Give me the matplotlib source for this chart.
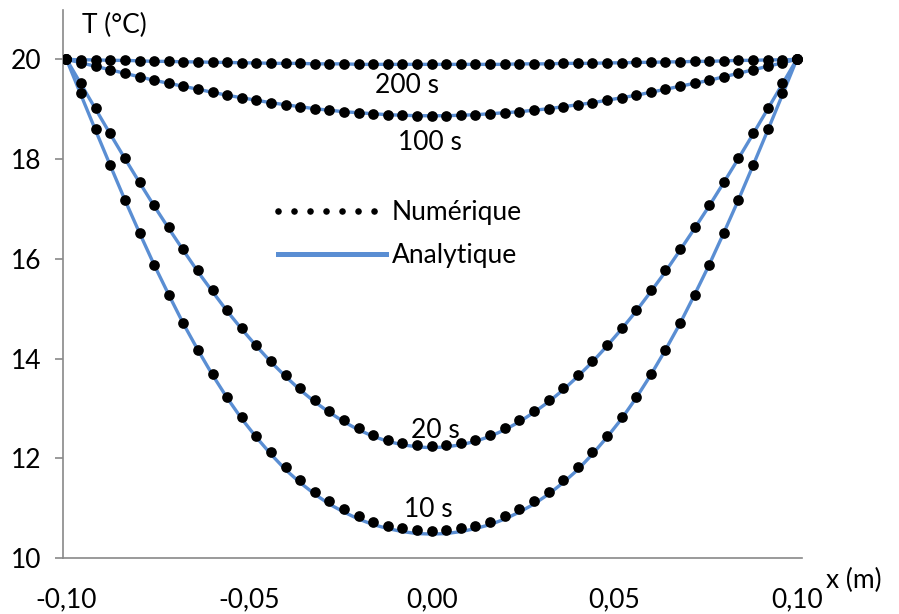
import numpy as np
import matplotlib
matplotlib.use("Agg")
import matplotlib.pyplot as plt
from matplotlib.lines import Line2D

plt.rcParams['font.family'] = ['Lato', 'DejaVu Sans']

# positions along the bar (m), 51 nodes
x_pos = np.round(np.linspace(-0.10, 0.10, 51), 3)

# analytic solution
ana_10 = [20.00, 19.28, 18.57, 17.87, 17.18, 16.52, 15.88, 15.28, 14.70, 14.17, 13.67, 13.21, 12.79,
          12.42, 12.08, 11.77, 11.51, 11.28, 11.08, 10.92, 10.78, 10.67, 10.59, 10.53, 10.49, 10.48,
          10.49, 10.53, 10.59, 10.67, 10.78, 10.92, 11.08, 11.28, 11.51, 11.77, 12.08, 12.42, 12.79,
          13.21, 13.67, 14.17, 14.70, 15.28, 15.88, 16.52, 17.18, 17.87, 18.57, 19.28, 20.00]
ana_20 = [20.00, 19.50, 19.00, 18.50, 18.01, 17.53, 17.06, 16.61, 16.17, 15.74, 15.34, 14.95, 14.59,
          14.25, 13.93, 13.64, 13.37, 13.13, 12.92, 12.73, 12.57, 12.44, 12.34, 12.27, 12.23, 12.21,
          12.23, 12.27, 12.34, 12.44, 12.57, 12.73, 12.92, 13.13, 13.37, 13.64, 13.93, 14.25, 14.59,
          14.95, 15.34, 15.74, 16.17, 16.61, 17.06, 17.53, 18.01, 18.50, 19.00, 19.50, 20.00]
ana_100 = [20.00, 19.93, 19.86, 19.79, 19.72, 19.65, 19.58, 19.52, 19.46, 19.40, 19.34, 19.28, 19.23,
           19.18, 19.13, 19.09, 19.05, 19.01, 18.98, 18.95, 18.93, 18.91, 18.89, 18.88, 18.87, 18.87,
           18.87, 18.88, 18.89, 18.91, 18.93, 18.95, 18.98, 19.01, 19.05, 19.09, 19.13, 19.18, 19.23,
           19.28, 19.34, 19.40, 19.46, 19.52, 19.58, 19.65, 19.72, 19.79, 19.86, 19.93, 20.00]
ana_200 = [20.00, 19.99, 19.99, 19.98, 19.98, 19.97, 19.96, 19.96, 19.95, 19.95, 19.94, 19.94, 19.93,
           19.93, 19.92, 19.92, 19.92, 19.91, 19.91, 19.91, 19.90, 19.90, 19.90, 19.90, 19.90, 19.90,
           19.90, 19.90, 19.90, 19.90, 19.90, 19.91, 19.91, 19.91, 19.92, 19.92, 19.92, 19.93, 19.93,
           19.94, 19.94, 19.95, 19.95, 19.96, 19.96, 19.97, 19.98, 19.98, 19.99, 19.99, 20.00]

# numerical solution (black dots)
num_10 = [20.00, 19.33, 18.60, 17.88, 17.18, 16.52, 15.88, 15.28, 14.71, 14.18, 13.69, 13.23, 12.82,
          12.45, 12.12, 11.82, 11.56, 11.33, 11.14, 10.98, 10.84, 10.73, 10.65, 10.60, 10.56, 10.55,
          10.56, 10.60, 10.65, 10.73, 10.84, 10.98, 11.14, 11.33, 11.56, 11.82, 12.12, 12.45, 12.82,
          13.23, 13.69, 14.18, 14.71, 15.28, 15.88, 16.52, 17.18, 17.88, 18.60, 19.33, 20.00]
num_20 = [20.00, 19.53, 19.02, 18.52, 18.03, 17.55, 17.08, 16.63, 16.19, 15.77, 15.37, 14.98, 14.62,
          14.28, 13.96, 13.67, 13.40, 13.16, 12.95, 12.76, 12.60, 12.47, 12.37, 12.30, 12.26, 12.24,
          12.26, 12.30, 12.37, 12.47, 12.60, 12.76, 12.95, 13.16, 13.40, 13.67, 13.96, 14.28, 14.62,
          14.98, 15.37, 15.77, 16.19, 16.63, 17.08, 17.55, 18.03, 18.52, 19.02, 19.53, 20.00]
num_100 = ana_100
num_200 = ana_200

times = ['10 s', '20 s', '100 s', '200 s']
label_x = [-0.0009, 0.0009, -0.0005, -0.0067]
label_y = [10.97, 12.56, 18.34, 19.47]

x_ticks = [-0.10, -0.05, 0.00, 0.05, 0.10]
x_labels = ['-0,10', '-0,05', '0,00', '0,05', '0,10']
y_ticks = [10, 12, 14, 16, 18, 20]

blue = '#5A8ED3'
grey = '#898989'
fs = 19

fig = plt.figure(figsize=(8.99, 6.14), dpi=100)
ax = fig.add_axes([62.7 / 899, 56 / 614, 739 / 899, 548 / 614])

for ana in [ana_10, ana_20, ana_100, ana_200]:
    ax.plot(x_pos, ana, color=blue, lw=2.4, zorder=2)
for num in [num_10, num_20, num_100, num_200]:
    ax.plot(x_pos, num, 'o', color='black', ms=7.7, mew=0, zorder=3)

for t, lx, ly in zip(times, label_x, label_y):
    ax.text(lx, ly, t, fontsize=fs, ha='center', va='center', zorder=4)

ax.set_xlim(-0.10104, 0.10134)
ax.set_ylim(10, 20.99)
ax.set_xticks(x_ticks)
ax.set_xticklabels(x_labels)
ax.set_yticks(y_ticks)

for s in ['top', 'right']:
    ax.spines[s].set_visible(False)
for s in ['left', 'bottom']:
    ax.spines[s].set_color(grey)
    ax.spines[s].set_linewidth(1.2)
ax.tick_params(axis='x', length=0, pad=21, labelsize=fs)
ax.tick_params(axis='y', length=6, width=1.2, color=grey, pad=9, labelsize=fs)

# legend
h_num = Line2D([], [], color='black', lw=4.8, linestyle=(0, (0.001, 2.4)), dash_capstyle='round')
h_ana = Line2D([], [], color=blue, lw=3.6)
ax.legend([h_num, h_ana], ['Numérique', 'Analytique'], frameon=False, fontsize=fs,
          loc='upper left', bbox_to_anchor=(278 / 899, 1 - 200 / 614), bbox_transform=fig.transFigure,
          borderpad=0, borderaxespad=0, handlelength=4.1, handletextpad=0.2, labelspacing=0.69)

fig.text(826 / 899, 1 - 580 / 614, 'x (m)', fontsize=fs, ha='left', va='center')
fig.text(82 / 899, 1 - 25 / 614, 'T (°C)', fontsize=fs, ha='left', va='center')

fig.savefig('out.png', dpi=100)
